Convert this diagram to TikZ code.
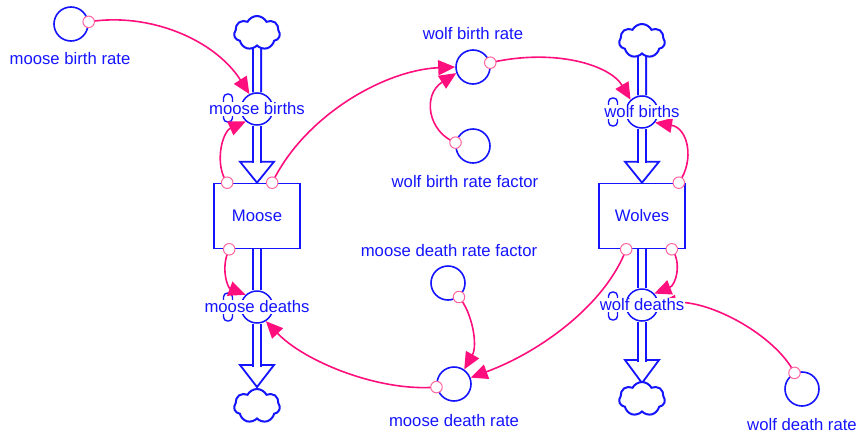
\documentclass[tikz,border=0pt]{standalone}
\usepackage{fontspec}
\setmainfont{Liberation Sans}
\usetikzlibrary{arrows.meta,shapes.symbols,backgrounds}
\definecolor{flowblue}{RGB}{20,20,255}
\definecolor{linkpink}{RGB}{255,15,125}
\definecolor{portpink}{RGB}{255,100,160}
\begin{document}
\begin{tikzpicture}[x=1pt,y=-1pt,
  every node/.style={font=\fontsize{16.7}{20}\selectfont, text=flowblue},
  stock/.style={draw=flowblue, line width=1.6pt, fill=white, minimum width=86pt, minimum height=65pt, inner sep=0},
  valve/.style={circle, draw=flowblue, line width=1.5pt, fill=white, minimum size=32pt, inner sep=0},
  aux/.style={circle, draw=flowblue, line width=1.6pt, fill=white, minimum size=34pt, inner sep=0},
  handle/.style={draw=flowblue, line width=1.4pt, rounded corners=4pt, minimum width=9pt, minimum height=28pt, inner sep=0},
  sink/.style={cloud, cloud puffs=7, cloud puff arc=125, aspect=1.45, draw=flowblue, line width=2pt, fill=white, minimum width=46pt, minimum height=34pt, inner sep=0},
  pipe/.style={draw=flowblue, double=white, double distance=6pt, line width=2pt},
  tri/.style={draw=flowblue, line width=1.8pt, fill=white, line join=miter},
  link/.style={draw=linkpink, line width=1.6pt, -{Triangle[length=17pt,width=15pt]}},
  port/.style={circle, draw=portpink, line width=1pt, fill=white, minimum size=11.5pt, inner sep=0},
  vlabel/.style={fill=white, inner sep=0.5pt},
]
\useasboundingbox (0,0) rectangle (858,434);

% stocks
\node[stock] (moose) at (257,216) {Moose};
\node[stock] (wolves) at (642,216) {Wolves};

% sources and sinks
\node[sink] (mct) at (257,33) {};
\node[sink] (mcb) at (257,406) {};
\node[sink] (wct) at (642,41) {};
\node[sink] (wcb) at (642,399) {};

% flow valves with their handles
\node[handle] (mbh) at (228,108) {};
\node[handle] (mdh) at (228,307) {};
\node[handle] (wbh) at (613,112) {};
\node[handle] (wdh) at (613,306) {};
\node[valve] (mbv) at (257,109) {};
\node[valve] (mdv) at (257,307) {};
\node[valve] (wbv) at (642,112) {};
\node[valve] (wdv) at (642,305) {};

% auxiliaries
\node[aux] (mbr) at (71,24) {};
\node[aux] (wbr) at (473,67) {};
\node[aux] (wbrf) at (473,146) {};
\node[aux] (mdrf) at (448,283) {};
\node[aux] (mdr) at (454,384) {};
\node[aux] (wdr) at (802,389) {};

\node (mbrl) at (70,59) {moose birth rate};
\node (wbrl) at (473,34) {wolf birth rate};
\node (wbrfl) at (465,182) {wolf birth rate factor};
\node (mdrfl) at (449,251) {moose death rate factor};
\node (mdrl) at (454,421) {moose death rate};
\node (wdrl) at (802,425) {wolf death rate};

% pipes and flow arrowheads
\begin{scope}[on background layer]
  \coordinate (mdt) at (257,365);
  \coordinate (wdt) at (642,360);
  \draw[tri] ([xshift=-17pt,yshift=21pt]moose.north) -- ([xshift=17pt,yshift=21pt]moose.north) -- (moose.north) -- cycle;
  \draw[tri] ([xshift=-17pt,yshift=21pt]wolves.north) -- ([xshift=17pt,yshift=21pt]wolves.north) -- (wolves.north) -- cycle;
  \draw[tri] ([xshift=-17pt]mdt) -- ([xshift=17pt]mdt) -- ([yshift=-22pt]mdt) -- cycle;
  \draw[tri] ([xshift=-17pt]wdt) -- ([xshift=17pt]wdt) -- ([yshift=-23pt]wdt) -- cycle;
  \draw[pipe] (mct.south) -- (mbv.north);
  \draw[pipe] (mbv.south) -- ([yshift=19.5pt]moose.north);
  \draw[pipe] (moose.south) -- (mdv.north);
  \draw[pipe] (mdv.south) -- ([yshift=-1.5pt]mdt);
  \draw[pipe] (wct.south) -- (wbv.north);
  \draw[pipe] (wbv.south) -- ([yshift=19.5pt]wolves.north);
  \draw[pipe] (wolves.south) -- (wdv.north);
  \draw[pipe] (wdv.south) -- ([yshift=-1.5pt]wdt);
\end{scope}

% information links
\draw[link] (mbr.7) .. controls (150,12) and (215,40) .. (mbv.117);
\draw[link] ([xshift=14pt]moose.north west) .. controls (214,165) and (222,132) .. (mbv.228);
\draw[link] ([xshift=59pt]moose.north west) .. controls (305,115) and (385,70) .. (wbr.180);
\draw[link] (wbr.14) .. controls (555,48) and (610,65) .. (wbv.133);
\draw[link] (wbrf.169) .. controls (428,132) and (422,95) .. (wbr.200);
\draw[link] ([xshift=-7pt]wolves.north east) .. controls (695,160) and (688,128) .. (wbv.321);
\draw[link] ([xshift=16pt]moose.south west) .. controls (220,268) and (228,288) .. (mdv.133);
\draw[link] ([xshift=28pt]wolves.south west) .. controls (605,305) and (540,352) .. (mdr.21);
\draw[link] ([xshift=-14pt]wolves.south east) .. controls (682,262) and (676,285) .. (wdv.43);
\draw[link] (mdrf.308) .. controls (472,312) and (478,345) .. (mdr.55);
\draw[link] (mdr.190) .. controls (380,392) and (305,362) .. (mdv.302);
\draw[link] (wdr.115) .. controls (775,335) and (710,300) .. (wdv.5);

% flow names
\node[vlabel] (mbl) at (257,109) {moose births};
\node[vlabel] (mdl) at (257,307) {moose deaths};
\node[vlabel] (wbl) at (642,112) {wolf births};
\node[vlabel] (wdl) at (642,305) {wolf deaths};

% link origins
\node[port] (p1) at (mbr.7) {};
\node[port] (p2) at ([xshift=14pt]moose.north west) {};
\node[port] (p3) at ([xshift=59pt]moose.north west) {};
\node[port] (p4) at (wbr.14) {};
\node[port] (p5) at (wbrf.169) {};
\node[port] (p6) at ([xshift=-7pt]wolves.north east) {};
\node[port] (p7) at ([xshift=16pt]moose.south west) {};
\node[port] (p8) at ([xshift=28pt]wolves.south west) {};
\node[port] (p9) at ([xshift=-14pt]wolves.south east) {};
\node[port] (p10) at (mdrf.308) {};
\node[port] (p11) at (mdr.190) {};
\node[port] (p12) at (wdr.115) {};
\end{tikzpicture}
\end{document}
